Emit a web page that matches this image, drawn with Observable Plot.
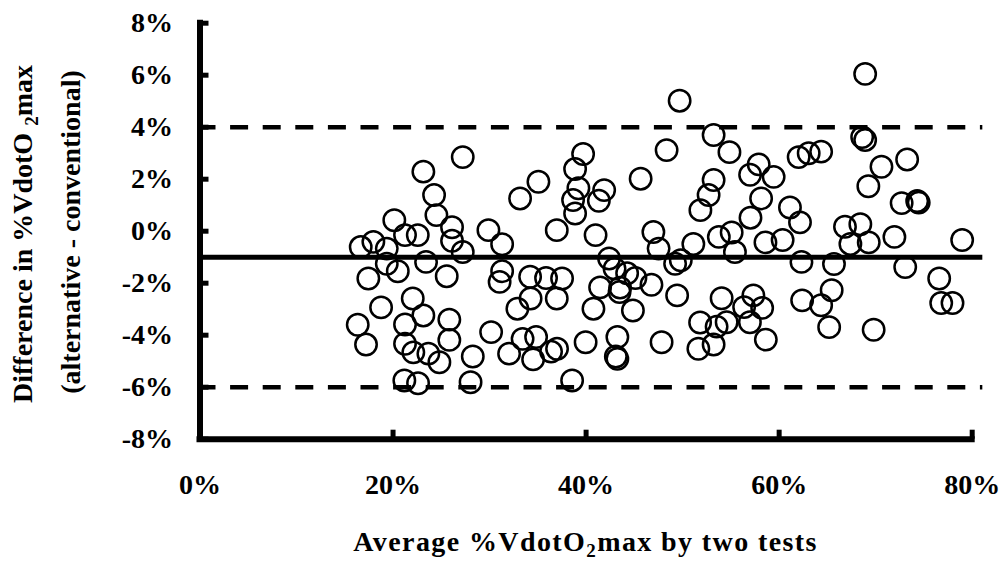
<!DOCTYPE html>
<html><head><meta charset="utf-8">
<script src="https://cdn.jsdelivr.net/npm/d3@7"></script>
<script src="https://cdn.jsdelivr.net/npm/@observablehq/plot@0.6"></script>
<style>html,body{margin:0;padding:0;background:#fff} svg{display:block}</style>
</head><body><div id="chart"></div>
<script>
// Average %VdotO2max by two tests (x, %)
const avgPct = [16.65,17.96,19.35,17.44,16.34,17.20,18.76,20.13,19.35,20.49,21.24,22.56,22.04,23.14,21.24,21.24,22.10,23.66,21.17,22.59,
23.14,24.25,24.49,26.11,26.11,27.22,27.22,23.42,25.56,25.83,25.83,24.80,28.26,28.03,29.88,31.30,31.30,31.04,30.16,33.16,
35.06,36.96,39.69,38.86,39.20,38.65,38.86,34.20,35.85,37.51,34.25,36.96,32.88,32.02,33.42,34.82,34.51,36.37,36.99,38.55,
39.95,41.87,41.32,45.65,40.98,46.97,42.38,42.95,44.25,45.11,46.77,41.45,43.52,43.47,40.76,44.85,43.24,43.08,43.24,47.82,
49.69,53.21,54.85,48.34,53.21,52.69,51.84,57.88,56.99,59.43,58.13,57.03,47.51,51.11,53.75,55.08,55.42,58.58,49.22,49.81,
49.43,54.04,57.33,56.37,58.24,51.81,53.52,54.56,56.97,51.63,53.21,58.62,61.12,62.16,62.02,63.06,64.35,60.36,62.31,62.38,
68.91,68.60,68.91,70.60,73.26,69.24,72.69,74.30,74.46,66.82,68.41,67.38,69.28,71.94,78.96,65.68,73.06,76.58,65.44,64.35,
76.79,77.96,65.18,69.79];
// Difference in %VdotO2max, alternative - conventional (y, %)
const diffPct = [-0.61,-0.41,-0.67,-1.82,-3.60,-4.36,-2.93,0.42,-1.25,-1.54,-0.15,-0.15,-2.59,-3.24,-3.59,-4.33,-4.66,-4.71,-5.74,-5.85,
2.29,1.39,0.62,0.15,-0.37,2.85,-0.80,-1.18,-1.73,-3.40,-4.18,-5.04,-4.82,-5.81,0.04,-0.50,-1.54,-1.95,-3.88,1.26,
1.90,0.04,2.97,2.39,1.65,1.20,0.68,-1.75,-1.80,-1.82,-2.59,-2.59,-2.98,-4.71,-4.14,-4.07,-4.93,-4.63,-4.52,-5.74,
-4.27,1.58,1.17,2.02,-0.15,-0.03,-1.05,-1.44,-1.62,-1.80,-2.06,-2.16,-2.17,-2.34,-2.98,-3.05,-4.07,-4.82,-4.91,-4.27,
5.02,3.70,3.04,3.12,1.97,1.39,0.81,2.57,2.17,2.09,1.26,0.52,-0.67,-0.49,-0.22,-0.05,-0.80,-0.43,-1.25,-1.12,
-2.47,-2.58,-2.47,-2.92,-2.95,-3.51,-3.67,-3.50,-3.50,-4.52,-4.36,-4.17,0.91,0.34,2.85,3.00,3.06,-0.34,-1.18,-2.66,
6.05,3.62,3.51,2.48,2.76,1.73,1.08,1.16,1.10,0.17,0.27,-0.49,-0.43,-0.22,-0.34,-1.26,-1.38,-1.82,-2.27,-2.85,
-2.76,-2.76,-3.69,-3.79];

const xTicks = [0, 20, 40, 60, 80];
const yTicks = [-8, -6, -4, -2, 0, 2, 4, 6, 8];
const limitLevels = [4, -6];   // limits of agreement (dashed)
const meanLevel = [-1];        // mean difference (solid)
const refExtent = [0, 81.1];   // x range covered by the reference lines
const xTitleParts = ["Average %VdotO", "2", "max by two tests"];
const yTitle1Parts = ["Difference in %VdotO ", "2", "max"];
const yTitle2 = "(alternative - conventional)";

const points = avgPct.map((x, i) => ({x, y: diffPct[i]}));
const FONT = "'Liberation Serif', 'Times New Roman', serif";

const chart = Plot.plot({
  width: 1007, height: 562,
  marginLeft: 199.5, marginRight: 35.3, marginTop: 22.7, marginBottom: 123.3,
  style: {fontFamily: FONT, fontSize: "28px", fontWeight: "bold", color: "#000", background: "#fff"},
  x: {domain: [0, 80]},
  y: {domain: [-8, 8]},
  marks: [
    Plot.ruleY(limitLevels, {y: d => d, x1: refExtent[0], x2: refExtent[1], stroke: "#000", strokeWidth: 4.5, strokeDasharray: "18,14.6", strokeDashoffset: 2}),
    Plot.ruleY(meanLevel, {y: d => d, x1: refExtent[0], x2: refExtent[1], stroke: "#000", strokeWidth: 5}),
    Plot.dot(points, {x: "x", y: "y", r: 10.7, stroke: "#000", strokeWidth: 2.5, fill: "none"}),
    Plot.axisX({ticks: xTicks, tickSize: -9, tickPadding: 44, tickFormat: d => d + "%", label: null, strokeWidth: 5, stroke: "#000"}),
    Plot.axisY({ticks: yTicks, tickSize: -9, tickPadding: 36, tickFormat: d => d + "%", label: null, strokeWidth: 5, stroke: "#000"}),
    Plot.ruleX([0], {stroke: "#000", strokeWidth: 6, strokeLinecap: "square"}),
    Plot.ruleY([-8], {stroke: "#000", strokeWidth: 6, strokeLinecap: "square"})
  ]
});
document.getElementById("chart").append(chart);

const svg = d3.select(chart);
function addTitle(parent, parts, attrs) {
  const t = parent.append("text")
    .attr("text-anchor", "middle")
    .style("font-family", FONT).style("font-weight", "bold").style("font-size", "28px")
    .attr("fill", "#000");
  Object.entries(attrs || {}).forEach(([k, v]) => t.style(k, v));
  if (typeof parts === "string") { t.text(parts); return t; }
  t.append("tspan").text(parts[0]);
  t.append("tspan").text(parts[1]).attr("dy", 6).style("font-size", "19px");
  t.append("tspan").text(parts[2]).attr("dy", -6);
  return t;
}
const gx = svg.append("g").attr("transform", "translate(585.6,551)");
addTitle(gx, xTitleParts, {"letter-spacing": "1.4px"});
const gy1 = svg.append("g").attr("transform", "translate(32,234) rotate(-90)");
addTitle(gy1, yTitle1Parts);
const gy2 = svg.append("g").attr("transform", "translate(80,232) rotate(-90)");
addTitle(gy2, yTitle2);
</script>
</body></html>
